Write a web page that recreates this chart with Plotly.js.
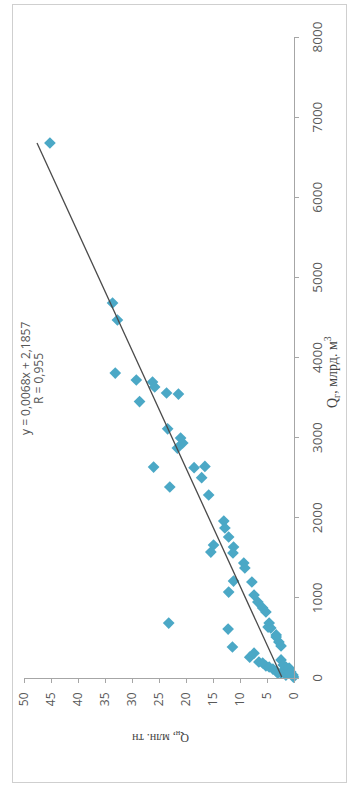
<!DOCTYPE html>
<html>
<head>
<meta charset="utf-8">
<script src="https://cdn.plot.ly/plotly-3.0.1.min.js"></script>
<style>
  html, body { margin: 0; padding: 0; overflow: hidden; background: #ffffff; }
  #wrap { position: absolute; left: 0; top: 0; width: 790px; height: 351px;
          transform-origin: 0 0; transform: translate(0px, 790px) rotate(-90deg); }
  #chart { position: absolute; left: 0; top: 0; width: 790px; height: 351px; }
  #frame { position: absolute; left: 7px; top: 12px; width: 777px; height: 333px;
           border: 1px solid #cfcfcf; pointer-events: none; }
</style>
</head>
<body>
<div id="wrap"><div id="chart"></div><div id="frame"></div></div>
<script>
// Gas production Qг (млрд. м³) — x values
const qGas = [6677, 4680, 4468, 3806, 3719, 3694, 3632, 3557, 3544, 3450,
              3110, 2995, 2933, 2870, 2633, 2625, 2640, 2500, 2384, 2284,
              1959, 1872, 1760, 1660, 1572, 1635, 1560, 1435, 1373, 1210,
              1198, 1073, 1036, 948, 874, 824, 686, 624, 537, 449,
              686, 611, 387, 260, 310, 200, 187, 150, 137, 112,
              87, 225, 162, 137, 125, 75, 37, 12, 37, 62,
              62, 62, 400, 512, 636];
// Oil production Qн (млн. тн) — y values
const qOil = [45.2, 33.6, 32.7, 33.1, 29.2, 26.2, 25.8, 23.6, 21.4, 28.6,
              23.4, 21.0, 20.6, 21.6, 26.0, 18.5, 16.5, 17.1, 23.0, 15.8,
              13.0, 12.8, 12.1, 14.9, 15.4, 11.2, 11.3, 9.3, 9.1, 11.2,
              7.8, 12.1, 7.4, 6.7, 5.8, 5.2, 4.6, 4.3, 3.3, 2.8,
              23.2, 12.2, 11.4, 8.2, 7.4, 6.5, 5.8, 5.2, 4.6, 3.9,
              3.3, 2.4, 2.0, 1.5, 0.9, 0.6, 0.2, 0.1, 1.5, 2.4,
              3.0, 0.9, 2.4, 3.3, 4.8];
// Linear trendline from the chart's equation
const trendSlope = 0.0068;
const trendIntercept = 2.1857;
const eqText = 'y = 0,0068x + 2,1857';
const rText = 'R = 0,955';
const xTickVals = [0, 1000, 2000, 3000, 4000, 5000, 6000, 7000, 8000];
const yTickVals = [0, 5, 10, 15, 20, 25, 30, 35, 40, 45, 50];

const xMin = Math.min(...qGas), xMax = Math.max(...qGas);
const trendX = [xMin, xMax];
const trendY = trendX.map(v => trendSlope * v + trendIntercept);

const data = [
  { type: 'scatter', mode: 'markers', x: qGas, y: qOil, cliponaxis: false,
    marker: { symbol: 'diamond', size: 9, color: '#4ba8c6' }, showlegend: false },
  { type: 'scatter', mode: 'lines', x: trendX, y: trendY, cliponaxis: false,
    line: { color: '#4a4a4a', width: 1.3 }, showlegend: false }
];

const layout = {
  width: 790, height: 351,
  margin: { l: 112, r: 37, t: 24, b: 57 },
  paper_bgcolor: '#ffffff', plot_bgcolor: '#ffffff',
  showlegend: false,
  font: { family: 'Open Sans, sans-serif', color: '#595959' },
  xaxis: { range: [0, 8000], tickvals: xTickVals, ticktext: xTickVals.map(String),
           showline: true, linecolor: '#a6a6a6', linewidth: 1,
           ticks: 'outside', ticklen: 4, tickcolor: '#a6a6a6',
           showgrid: false, zeroline: false, ticklabelstandoff: 7,
           tickfont: { size: 13.5, color: '#595959' } },
  yaxis: { range: [0, 50], tickvals: yTickVals, ticktext: yTickVals.map(String),
           showline: true, linecolor: '#a6a6a6', linewidth: 1,
           ticks: 'outside', ticklen: 4, tickcolor: '#a6a6a6',
           showgrid: false, zeroline: false, ticklabelstandoff: 7,
           tickfont: { size: 12, color: '#595959' } },
  annotations: [
    { xref: 'paper', yref: 'paper', x: 0.468, y: 0.995, text: eqText, showarrow: false,
      xanchor: 'center', yanchor: 'middle', font: { size: 12, color: '#555555' } },
    { xref: 'paper', yref: 'paper', x: 0.468, y: 0.947, text: rText, showarrow: false,
      xanchor: 'center', yanchor: 'middle', font: { size: 12, color: '#555555' } },
    { xref: 'paper', yref: 'paper', x: 0.477, y: -0.141,
      text: 'Q<sub>г</sub>, млрд. м<sup>3</sup>', showarrow: false,
      xanchor: 'center', yanchor: 'middle',
      font: { family: 'Liberation Serif, serif', size: 14, color: '#444444' } },
    { xref: 'paper', yref: 'paper', x: -0.092, y: 0.493,
      text: 'Q<sub>н</sub>, млн. тн', showarrow: false, textangle: -90,
      xanchor: 'center', yanchor: 'middle',
      font: { family: 'Liberation Serif, serif', size: 12, color: '#444444' } }
  ]
};

Plotly.newPlot('chart', data, layout, { staticPlot: true, displayModeBar: false });
</script>
</body>
</html>
